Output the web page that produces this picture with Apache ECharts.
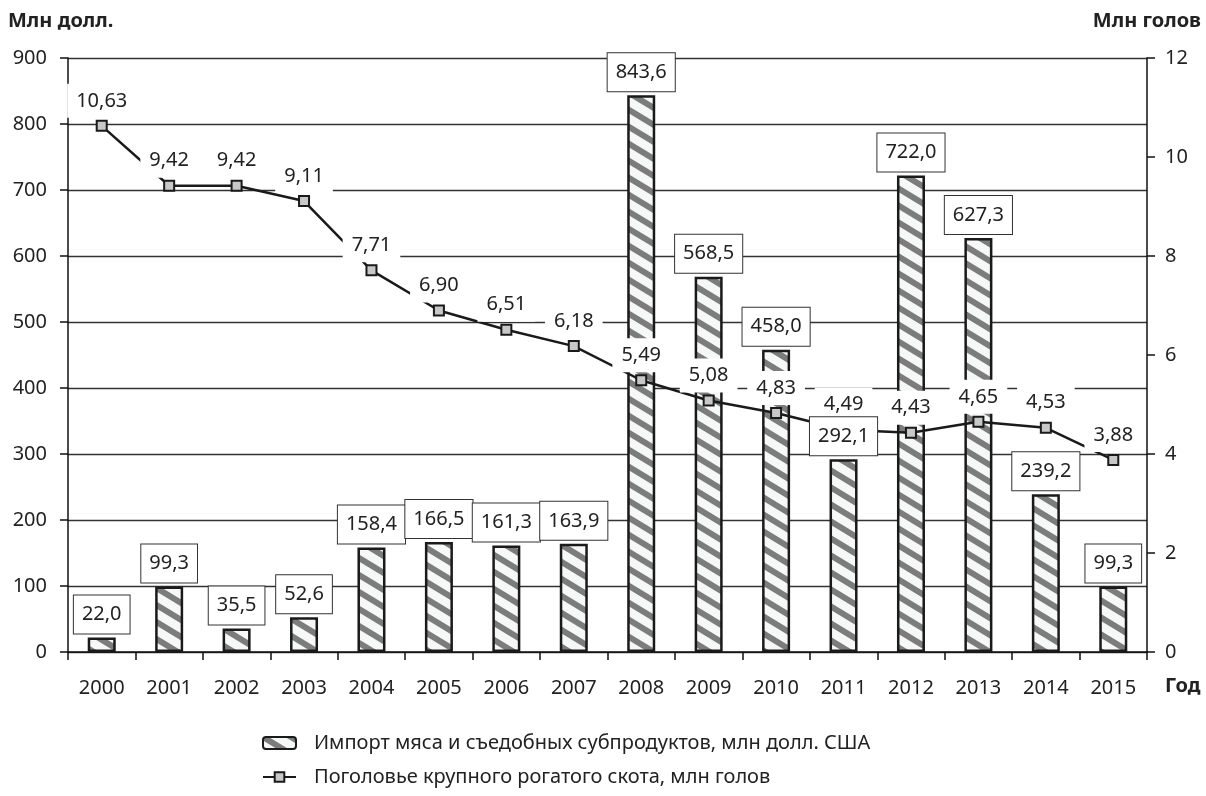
<!DOCTYPE html>
<html>
<head>
<meta charset="utf-8">
<script src="https://cdn.jsdelivr.net/npm/echarts@6/dist/echarts.min.js"></script>
<style>
  html, body { margin: 0; padding: 0; background: #fff; }
  #chart { width: 1206px; height: 796px; }
</style>
</head>
<body>
<div id="chart"></div>
<script>
// Years on the category axis
const years = ['2000', '2001', '2002', '2003', '2004', '2005', '2006', '2007',
               '2008', '2009', '2010', '2011', '2012', '2013', '2014', '2015'];

// Import of meat and edible offal, mln USD
const meatImport = [22.0, 99.3, 35.5, 52.6, 158.4, 166.5, 161.3, 163.9,
                    843.6, 568.5, 458.0, 292.1, 722.0, 627.3, 239.2, 99.3];

// Cattle stock, mln heads
const cattle = [10.63, 9.42, 9.42, 9.11, 7.71, 6.90, 6.51, 6.18,
                5.49, 5.08, 4.83, 4.49, 4.43, 4.65, 4.53, 3.88];

const importName = 'Импорт мяса и съедобных субпродуктов, млн долл. США';
const cattleName = 'Поголовье крупного рогатого скота, млн голов';

const FONT = 'Noto Sans';
const TEXT = '#222';
const FS = 20;

// hatch pattern for the bars: grey diagonal stripes on white
function makeStripes() {
    const w = 28, h = 17;
    const c = document.createElement('canvas');
    c.width = w; c.height = h;
    const ctx = c.getContext('2d');
    ctx.fillStyle = '#f6f8f8';
    ctx.fillRect(0, 0, w, h);
    ctx.strokeStyle = '#7c7c7c';
    ctx.lineWidth = 6;
    for (let k = -1; k <= 1; k++) {
        ctx.beginPath();
        ctx.moveTo(-2, k * h - 2 * h / w);
        ctx.lineTo(w + 2, (k + 1) * h + 2 * h / w);
        ctx.stroke();
    }
    return c;
}

const comma = (v, d) => v.toFixed(d).replace('.', ',');

const chart = echarts.init(document.getElementById('chart'));

chart.setOption({
    animation: false,
    textStyle: { fontFamily: FONT, color: TEXT },
    grid: { left: 68, right: 59, top: 58, bottom: 144 },
    legend: {
        data: [importName, cattleName],
        orient: 'vertical',
        left: 257,
        top: 728,
        itemWidth: 33,
        itemHeight: 12,
        itemGap: 14,
        textStyle: { fontFamily: FONT, fontSize: FS, color: TEXT, padding: [0, 0, 0, 13] }
    },
    graphic: [
        { type: 'text', left: 8, top: 11,
          style: { text: 'Млн долл.', font: 'bold 20px "Noto Sans"', fill: TEXT } },
        { type: 'text', right: 5, top: 11,
          style: { text: 'Млн голов', font: 'bold 20px "Noto Sans"', fill: TEXT } },
        { type: 'text', left: 1165, top: 676,
          style: { text: 'Год', font: 'bold 20px "Noto Sans"', fill: TEXT } }
    ],
    xAxis: {
        type: 'category',
        data: years,
        axisLine: { lineStyle: { color: '#111', width: 1.5 } },
        axisTick: { show: true, length: 8, lineStyle: { color: '#111', width: 1.5 } },
        axisLabel: { fontSize: FS, color: TEXT, margin: 26, fontFamily: FONT }
    },
    yAxis: [
        {
            type: 'value', min: 0, max: 900, interval: 100,
            axisLine: { show: true, lineStyle: { color: '#111', width: 1.5 } },
            axisTick: { show: true, length: 8, lineStyle: { color: '#111', width: 1.5 } },
            axisLabel: { fontSize: FS, color: TEXT, margin: 21, fontFamily: FONT },
            splitLine: { lineStyle: { color: '#333', width: 1.4 } }
        },
        {
            type: 'value', min: 0, max: 12, interval: 2, position: 'right',
            axisLine: { show: true, lineStyle: { color: '#111', width: 1.5 } },
            axisTick: { show: true, length: 8, lineStyle: { color: '#111', width: 1.5 } },
            axisLabel: { fontSize: FS, color: TEXT, margin: 18, fontFamily: FONT },
            splitLine: { show: false }
        }
    ],
    series: [
        {
            name: importName,
            type: 'bar',
            data: meatImport,
            barWidth: 28,
            barGap: '-100%',
            z: 2,
            itemStyle: {
                color: { image: makeStripes(), repeat: 'repeat' },
                borderColor: '#1a1a1a',
                borderWidth: 2.5
            }
        },
        {
            name: cattleName,
            type: 'line',
            yAxisIndex: 1,
            data: cattle,
            z: 3,
            symbol: 'rect',
            symbolSize: 10,
            lineStyle: { color: '#1a1a1a', width: 2.5 },
            itemStyle: { color: '#c8c8c8', borderColor: '#1a1a1a', borderWidth: 2 },
            label: {
                show: true,
                position: 'top',
                distance: 2,
                formatter: p => comma(p.value, 2),
                fontSize: FS,
                fontFamily: FONT,
                color: TEXT,
                backgroundColor: '#fff',
                padding: [7, 9]
            }
        },
        {
            // carries the boxed value labels of the bars so they sit above the line
            name: 'importLabels',
            type: 'bar',
            data: meatImport,
            barWidth: 28,
            barGap: '-100%',
            z: 5,
            silent: true,
            itemStyle: { color: 'transparent' },
            label: {
                show: true,
                position: 'top',
                distance: 4,
                formatter: p => comma(p.value, 1),
                fontSize: FS,
                fontFamily: FONT,
                color: TEXT,
                backgroundColor: '#fff',
                borderColor: '#333',
                borderWidth: 1,
                padding: [9, 8]
            }
        }
    ]
});
</script>
</body>
</html>
